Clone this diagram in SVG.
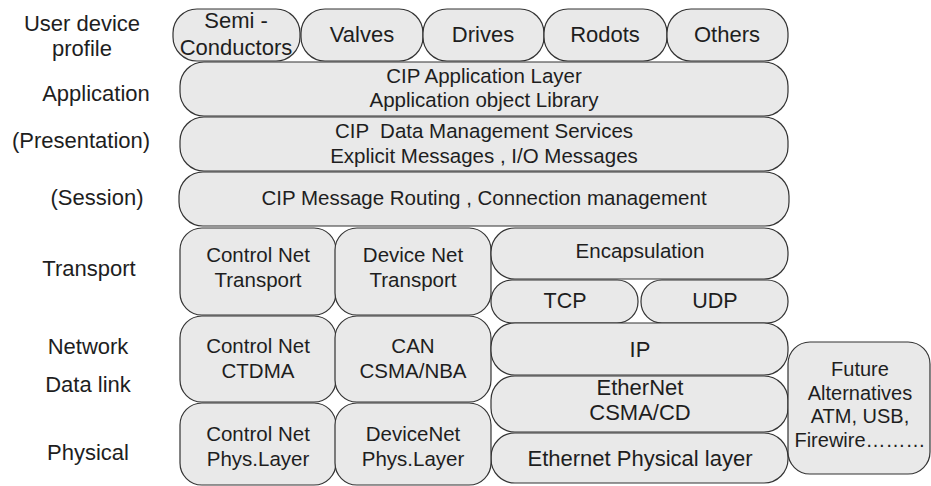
<svg xmlns="http://www.w3.org/2000/svg" width="931" height="486" viewBox="0 0 931 486">
<style>
.b{fill:#e9e9e9;stroke:#333;stroke-width:1.2}
text{font-family:"Liberation Sans",Arial,sans-serif;font-size:20.5px;fill:#1e1e1e;text-anchor:middle}
.l,.t,.e{font-size:22px}
.f{font-size:20px}
</style>
<rect width="931" height="486" fill="#fff"/>
<g id="labels">
<text class="l" x="82" y="31">User device</text>
<text class="l" x="82" y="56">profile</text>
<text class="l" x="96" y="101">Application</text>
<text class="l" x="81" y="148">(Presentation)</text>
<text class="l" x="97" y="205">(Session)</text>
<text class="l" x="89" y="276">Transport</text>
<text class="l" x="88" y="354">Network</text>
<text class="l" x="88" y="392">Data link</text>
<text class="l" x="88" y="460">Physical</text>
</g>
<g id="semi"><rect class="b" x="173" y="9" width="127" height="52" rx="24"/><text class="t" x="236" y="28">Semi -</text><text class="t" x="236" y="55">Conductors</text></g>
<g id="valves"><rect class="b" x="301" y="9" width="122" height="52" rx="24"/><text class="t" x="362" y="42">Valves</text></g>
<g id="drives"><rect class="b" x="423" y="9" width="121" height="52" rx="24"/><text class="t" x="483" y="42">Drives</text></g>
<g id="rodots"><rect class="b" x="544" y="9" width="123" height="52" rx="24"/><text class="t" x="605" y="42">Rodots</text></g>
<g id="others"><rect class="b" x="667" y="9" width="121" height="52" rx="24"/><text class="t" x="727" y="42">Others</text></g>
<g id="app"><rect class="b" x="180" y="62" width="608" height="54" rx="24"/><text x="484" y="83">CIP Application Layer</text><text x="484" y="107">Application object Library</text></g>
<g id="pres"><rect class="b" x="180" y="117" width="608" height="54" rx="24"/><text x="484" y="138" xml:space="preserve">CIP  Data Management Services</text><text x="484" y="163">Explicit Messages , I/O Messages</text></g>
<g id="session"><rect class="b" x="179" y="172" width="610" height="54" rx="24"/><text x="484" y="205">CIP Message Routing , Connection management</text></g>
<g id="cnt"><rect class="b" x="180" y="228" width="156" height="87" rx="22"/><text x="258" y="262">Control Net</text><text x="258" y="287">Transport</text></g>
<g id="dnt"><rect class="b" x="335" y="228" width="156" height="87" rx="22"/><text x="413" y="262">Device Net</text><text x="413" y="287">Transport</text></g>
<g id="encap"><rect class="b" x="491" y="228" width="297" height="51" rx="24"/><text x="640" y="258">Encapsulation</text></g>
<g id="tcp"><rect class="b" x="491" y="280" width="147" height="43" rx="21"/><text x="565" y="308" style="font-size:21.5px">TCP</text></g>
<g id="udp"><rect class="b" x="641" y="280" width="147" height="43" rx="21"/><text x="715" y="308" style="font-size:21.5px">UDP</text></g>
<g id="ctdma"><rect class="b" x="180" y="316" width="156" height="86" rx="22"/><text x="258" y="353">Control Net</text><text x="258" y="378">CTDMA</text></g>
<g id="can"><rect class="b" x="335" y="316" width="156" height="86" rx="22"/><text x="413" y="353">CAN</text><text x="413" y="378">CSMA/NBA</text></g>
<g id="ip"><rect class="b" x="491" y="323" width="297" height="52" rx="24"/><text class="e" x="640" y="357">IP</text></g>
<g id="ether"><rect class="b" x="491" y="376" width="297" height="56" rx="24"/><text class="e" x="640" y="395">EtherNet</text><text class="e" x="640" y="420">CSMA/CD</text></g>
<g id="ephys"><rect class="b" x="491" y="433" width="297" height="50" rx="24"/><text class="e" x="640" y="466">Ethernet Physical layer</text></g>
<g id="cphys"><rect class="b" x="180" y="403" width="156" height="82" rx="22"/><text x="258" y="441">Control Net</text><text x="258" y="466">Phys.Layer</text></g>
<g id="dphys"><rect class="b" x="335" y="403" width="156" height="82" rx="22"/><text x="413" y="441">DeviceNet</text><text x="413" y="466">Phys.Layer</text></g>
<g id="future"><rect class="b" x="788" y="342" width="142" height="132" rx="22"/><text class="f" x="860" y="376">Future</text><text class="f" x="860" y="400">Alternatives</text><text class="f" x="860" y="423">ATM, USB,</text><text class="f" x="860" y="447">Firewire………</text></g>
<g id="connectors"/>
</svg>
